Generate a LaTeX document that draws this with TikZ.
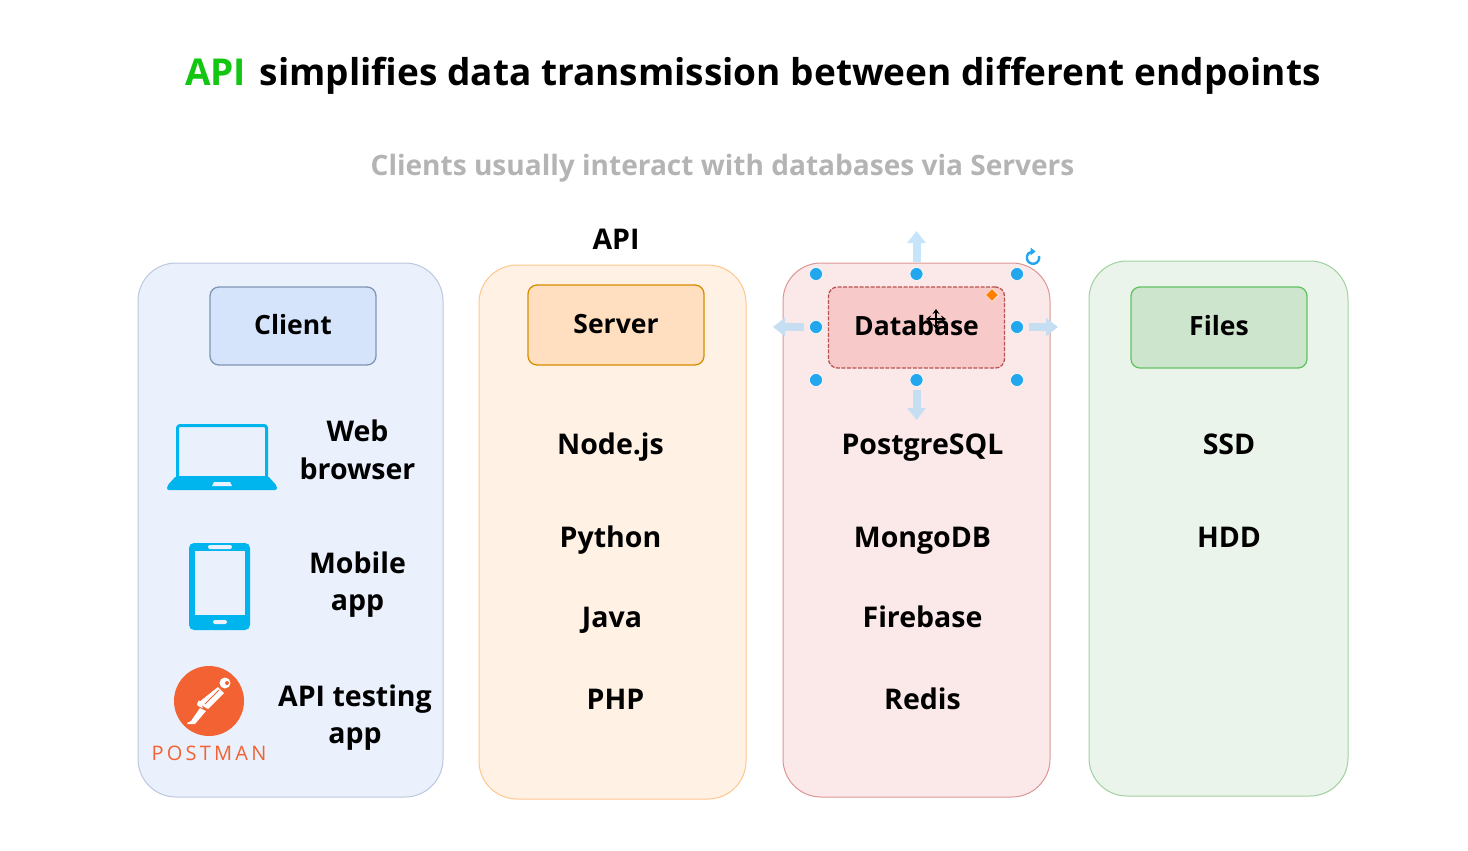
\documentclass[tikz,border=0pt]{standalone}
\usepackage{fontspec}
\setmainfont{Open Sans}
\usetikzlibrary{arrows.meta,positioning,shapes.geometric}
\definecolor{apigreen}{HTML}{12C612}
\definecolor{subgray}{HTML}{B4B4B4}
\definecolor{iconblue}{HTML}{00B4EE}
\definecolor{handleblue}{HTML}{22A7EE}
\definecolor{postorange}{HTML}{F26232}
\definecolor{clientfill}{HTML}{EAF0FC}
\definecolor{clientline}{HTML}{BCC8DE}
\definecolor{clienthead}{HTML}{D5E4FB}
\definecolor{clientedge}{HTML}{7F95B5}
\definecolor{dbfill}{HTML}{FBE8E8}
\definecolor{dbhead}{HTML}{F8C9C9}
\definecolor{dbedge}{HTML}{B85450}
\definecolor{hintlight}{HTML}{C6E5FA}
\definecolor{hintdark}{HTML}{C5DEF1}

\begin{document}
\begin{tikzpicture}[
  x=1pt, y=-1pt,
  >={Triangle[length=12pt,width=18pt]},
  font=\fontsize{28.5}{37.5}\selectfont\bfseries,
  panel/.style={rectangle, rounded corners=38pt, line width=1pt, inner sep=0pt},
  head/.style={rectangle, rounded corners=9pt, line width=1.3pt, inner sep=0pt, minimum width=176pt, minimum height=80pt, font=\fontsize{26.5}{30}\selectfont\bfseries, text height=20pt, text depth=4pt},
  item/.style={align=center, inner sep=0pt},
  oneline/.style={inner sep=0pt, text height=22pt, text depth=2pt},
  handle/.style={circle, fill=handleblue, draw=white, line width=0.6pt, minimum size=13pt, inner sep=0pt},
  hint/.style={->, line width=8pt, draw=#1}
]
\useasboundingbox (0,0) rectangle (1468,851);

% Titles
\node[font=\fontsize{37}{44}\selectfont\bfseries, anchor=west, inner sep=0pt] (title) at (185,76) {\textcolor{apigreen}{API}\hspace{4pt} simplifies data transmission between different endpoints};
\node[text=subgray, font=\fontsize{28.05}{34}\selectfont\bfseries] (subtitle) at (722.5,168) {Clients usually interact with databases via Servers};

% Panels
\node[panel, draw=clientline, fill=clientfill, minimum width=305pt, minimum height=534pt] (clientpanel) at (290.5,530) {};
\node[panel, draw=orange!45, fill=orange!10, minimum width=267pt, minimum height=534pt] (serverpanel) at (612.5,532) {};
\node[panel, draw=red!50!gray!55, fill=dbfill, minimum width=267pt, minimum height=534pt] (dbpanel) at (916.5,530) {};
\node[panel, draw=green!35!gray!55, fill=green!30!gray!12, minimum width=259pt, minimum height=535pt] (filespanel) at (1218.5,528.5) {};

% Headers
\node[head, minimum width=166pt, minimum height=78pt, draw=clientedge, fill=clienthead] (client) at (293,326) {Client};
\node[head, draw=orange!70!yellow!85!black, fill=orange!25, minimum height=80pt] (server) at (616,325) {Server};
\node[head, draw=dbedge, fill=dbhead, dash pattern=on 4pt off 1.5pt, minimum height=81pt] (database) at (916.5,327.5) {Database};
\node[head, draw=green!45!gray!85, fill=green!30!gray!30, minimum height=81pt] (files) at (1219,327.5) {Files};
\node[above=31pt of server] (apilabel) {API};

% Client items
\node[item] (web) at (357.5,450) {Web\\browser};
\node[item] (mobile) at (357.5,584.5) {Mobile\\app};
\node[item] (testing) at (355,717.5) {API testing\\app};

% Server items
\node[oneline] (node) at (610.5,444) {Node.js};
\node[oneline] (python) at (610.5,537) {Python};
\node[oneline] (java) at (612,617) {Java};
\node[oneline] (php) at (615.5,699) {PHP};

% Database items
\node[oneline] (postgres) at (922.5,444) {PostgreSQL};
\node[oneline] (mongo) at (922.5,537) {MongoDB};
\node[oneline] (firebase) at (922.5,617) {Firebase};
\node[oneline] (redis) at (922.5,699) {Redis};

% Files items
\node[oneline] (ssd) at (1229,444) {SSD};
\node[oneline] (hdd) at (1229,537) {HDD};

% Laptop
\draw[iconblue, line width=3pt, rounded corners=2.5pt] (177.5,477) -- (177.5,425.5) -- (266.5,425.5) -- (266.5,477);
\fill[iconblue, rounded corners=2pt] (176,476) -- (268,476) -- (277,486) -- (277,490) -- (167,490) -- (167,486) -- cycle;
\fill[clientfill] (214,482) -- (230,482) -- (232,486) -- (212,486) -- cycle;

% Tablet
\fill[iconblue, rounded corners=5pt] (189,543) rectangle (250,630);
\fill[clientfill] (195,551) rectangle (244.5,614.5);
\fill[clientfill, rounded corners=2pt] (208,545) rectangle (232,549);
\fill[clientfill, rounded corners=2pt] (213,620) rectangle (227,624);

% Postman logo
\node[circle, fill=postorange, minimum size=70pt, inner sep=0pt] (logo) at (209,701) {};
\fill[white] (225,683) circle (5.5pt);
\fill[postorange] (227,683) circle (2pt);
\fill[white] (218,687) -- (224,693) -- (208,709) -- (198,703) -- cycle;
\draw[postorange, line width=0.8pt] (219,690) -- (205,704);
\fill[white] (199,700) -- (203,708) -- (198,706) -- (197,704) -- cycle;
\fill[white] (200,708) -- (206,711) -- (195,724) -- (191,721) -- cycle;
\fill[white] (191,721) -- (195,724) -- (188,724) -- (187,723) -- cycle;
\node[text=postorange, font=\fontsize{20}{24}\mdseries\selectfont\addfontfeature{LetterSpace=16}] (postman) at (209,753) {POSTMAN};

% Selection handles
\node[handle] (hnw) at (816,274) {};
\node[handle] (hn) at (916.5,274) {};
\node[handle] (hne) at (1017,274) {};
\node[handle] (hw) at (816,327) {};
\node[handle] (he) at (1017,327) {};
\node[handle] (hsw) at (816,380) {};
\node[handle] (hs) at (916.5,380) {};
\node[handle] (hse) at (1017,380) {};

\coordinate (tipn) at (916.5,231);
\coordinate (tips) at (916.5,420);
\coordinate (tipw) at (773,327);
\coordinate (tipe) at (1058,327);
\draw[hint=hintlight] ([yshift=5pt]hn.north) -- (tipn);
\draw[hint=hintdark] ([yshift=-3pt]hs.south) -- (tips);
\draw[hint=hintdark] ([xshift=-5pt]hw.west) -- (tipw);
\draw[hint=hintdark] ([xshift=5pt]he.east) -- (tipe);

% Rotate and adjust marks
\node[diamond, fill=orange, draw=white, line width=0.5pt, minimum size=13pt, inner sep=0pt] (adjust) at (992,295) {};
\draw[handleblue, line width=2.4pt] (1039,256) arc (15:-265:6.2pt);
\fill[handleblue] (1035.5,251.5) -- (1030.5,247.5) -- (1030.5,255.5) -- cycle;
\draw[black, line width=2pt, <->, >={Stealth[length=5pt,width=7pt]}] (936,309) -- (936,329);
\draw[black, line width=2pt, <->, >={Stealth[length=5pt,width=7pt]}] (926,319) -- (946,319);
\end{tikzpicture}
\end{document}
